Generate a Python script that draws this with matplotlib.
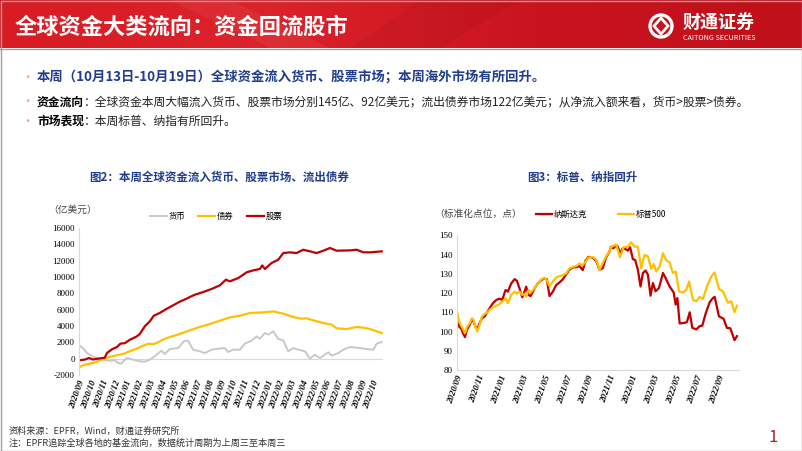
import matplotlib.pyplot as plt
import numpy as np
from matplotlib.patches import Rectangle, Circle, Polygon
from matplotlib.colors import LinearSegmentedColormap

plt.rcParams['font.family'] = ['Noto Sans CJK SC', 'DejaVu Sans']

# ---- data: fund flows (100m USD), x = months since 2020/09 ----
flow_ticks = ["2020/09", "2020/10", "2020/11", "2020/12", "2021/01", "2021/02", "2021/03",
              "2021/04", "2021/05", "2021/06", "2021/07", "2021/08", "2021/09", "2021/10",
              "2021/11", "2021/12", "2022/01", "2022/02", "2022/03", "2022/04", "2022/05",
              "2022/06", "2022/07", "2022/08", "2022/09", "2022/10"]

stock_x = [0, 0.48, 0.85, 1.19, 1.62, 2.19, 2.38, 2.84, 3.23, 3.52, 3.89, 4.31, 4.88, 5.16,
           5.59, 6.02, 6.36, 6.87, 7.43, 8.00, 8.57, 9.14, 9.42, 9.85, 10.56, 11.27, 11.98,
           12.49, 12.83, 13.54, 14.25, 14.81, 15.38, 15.58, 15.81, 16.37, 16.94, 17.37, 17.93,
           18.50, 19.07, 19.64, 20.20, 20.77, 21.34, 21.91, 23.04, 23.61, 24.18, 24.74, 25.74]
stock_y = [-200, -120, 80, -100, 0, 120, 700, 1180, 1430, 1840, 1900, 2300, 2700, 3000,
           3950, 4570, 5260, 5600, 6080, 6530, 6980, 7340, 7550, 7830, 8160, 8530, 8980,
           9670, 9470, 9870, 10570, 10810, 10980, 11420, 10980, 11710, 12120, 12930, 13020,
           12930, 13340, 13140, 12930, 13220, 13550, 13220, 13260, 13340, 13020, 13020, 13140]

bond_x = [0, 0.48, 1.19, 1.62, 2.04, 2.61, 3.18, 3.75, 4.31, 4.88, 5.45, 5.93, 6.30, 6.73,
          7.15, 7.72, 8.57, 9.42, 10.27, 11.12, 11.98, 12.83, 13.68, 14.53, 15.66, 16.52,
          17.37, 18.22, 18.93, 19.35, 19.92, 20.77, 21.48, 21.91, 22.76, 23.61, 24.18, 24.74,
          25.74]
bond_y = [-1060, -730, -530, -330, -40, 200, 410, 570, 900, 1220, 1590, 1840, 1750, 2000,
          2330, 2650, 3020, 3470, 3880, 4240, 4650, 5060, 5260, 5590, 5670, 5790, 5510, 5100,
          4900, 4940, 4690, 4370, 4160, 3710, 3630, 3880, 3790, 3630, 3140]

cash_x = [0, 0.34, 0.68, 1.05, 1.48, 1.90, 2.47, 3.04, 3.32, 3.60, 4.03, 4.60, 5.16, 5.59,
          6.02, 6.44, 7.01, 7.29, 7.72, 8.43, 8.91, 9.28, 9.70, 10.27, 10.70, 11.27, 11.83,
          12.40, 12.68, 13.11, 13.68, 14.10, 14.67, 15.10, 15.38, 15.81, 16.09, 16.52, 16.94,
          17.37, 17.79, 18.22, 18.64, 19.21, 19.64, 20.06, 20.49, 20.91, 21.20, 21.48, 22.05,
          22.47, 23.04, 23.89, 24.46, 25.03, 25.31, 25.74]
cash_y = [1630, 1300, 690, 370, 80, -40, -250, -200, -530, -610, 80, -120, -330, -370,
          -120, 290, 980, 570, 1180, 1300, 2120, 2200, 1100, 900, 690, 1100, 1220,
          1300, 820, 1100, 1100, 1840, 2200, 2730, 2450, 3140, 2940, 3350, 2410,
          2240, 900, 1300, 1100, 900, 0, 490, 80, 490, 780, 370, 690,
          1100, 1430, 1300, 1180, 1100, 1840, 2040]

# ---- data: normalised index levels ----
index_ticks = ["2020/09", "2020/11", "2021/01", "2021/03", "2021/05", "2021/07", "2021/09",
               "2021/11", "2022/01", "2022/03", "2022/05", "2022/07", "2022/09"]

nasdaq_x = [0, 0.18, 0.40, 0.55, 0.73, 0.91, 1.16, 1.37, 1.52, 1.68, 1.86, 2.07, 2.29, 2.53,
            2.74, 2.99, 3.29, 3.60, 3.90, 4.15, 4.45, 4.66, 4.97, 5.28, 5.49, 5.73, 5.98,
            6.19, 6.34, 6.56, 6.74, 7.11, 7.41, 7.72, 8.02, 8.23, 8.48, 8.78, 9.09, 9.39,
            9.70, 10.00, 10.31, 10.61, 10.92, 11.22, 11.53, 11.77, 12.04, 12.44, 12.75, 13.06,
            13.36, 13.67, 13.97, 14.12, 14.34, 14.59, 14.74, 14.95, 15.20, 15.44, 15.66, 15.87,
            16.12, 16.33, 16.58, 16.82, 17.04, 17.28, 17.50, 17.74, 17.96, 18.20, 18.51, 18.88,
            19.12, 19.49, 19.86, 20.04, 20.20, 20.41, 20.87, 21.08, 21.33, 21.57, 21.94, 22.24,
            22.49, 22.79, 23.16, 23.46, 23.62, 24.01, 24.44, 24.74, 25.05, 25.44, 25.66]
nasdaq_y = [109.5, 102.6, 101.4, 99.1, 97.1, 100.9, 103.4, 106.4, 105.2, 102.6, 101.2, 104.3,
            106.9, 107.8, 109.8, 112.1, 114.7, 116.4, 117.1, 116.4, 121.6, 120.7, 125.0, 127.2,
            126.4, 122.4, 117.8, 120.7, 123.3, 119.0, 118.4, 122.4, 125.0, 126.7, 127.6, 127.2,
            118.4, 120.7, 124.1, 125.5, 127.1, 129.7, 132.2, 133.3, 133.4, 134.0, 131.9, 136.7,
            138.8, 138.4, 136.7, 132.1, 132.9, 138.6, 141.5, 144.1, 143.3, 144.8, 144.1, 140.7,
            143.3, 142.9, 142.0, 143.8, 137.6, 137.2, 132.1, 123.4, 130.4, 131.7, 129.5, 118.6,
            125.2, 120.9, 122.6, 130.4, 127.8, 123.4, 120.3, 114.0, 117.4, 104.2, 104.5, 105.0,
            110.0, 101.9, 101.1, 102.8, 103.1, 109.3, 115.2, 117.4, 118.0, 107.9, 106.6, 101.9,
            101.7, 95.5, 97.6]

spx_x = [0, 0.18, 0.40, 0.55, 0.73, 0.91, 1.16, 1.37, 1.52, 1.68, 1.86, 2.07, 2.29, 2.53,
         2.74, 2.99, 3.29, 3.60, 3.90, 4.15, 4.45, 4.66, 4.97, 5.28, 5.49, 5.73, 5.98, 6.19,
         6.34, 6.56, 6.74, 7.11, 7.41, 7.72, 8.02, 8.23, 8.48, 8.78, 9.09, 9.39, 9.70, 10.00,
         10.31, 10.61, 10.92, 11.22, 11.53, 11.77, 12.04, 12.44, 12.75, 13.06, 13.67, 13.97,
         14.12, 14.59, 14.95, 15.26, 15.66, 15.96, 16.27, 16.58, 16.88, 17.19, 17.50, 17.80,
         18.02, 18.26, 18.57, 18.88, 19.18, 19.49, 19.79, 20.04, 20.35, 20.72, 21.02, 21.27,
         21.63, 21.94, 22.24, 22.55, 22.91, 23.31, 23.62, 24.01, 24.38, 24.84, 25.14, 25.44,
         25.66]
spx_y = [110.3, 105.2, 102.9, 101.2, 99.1, 102.2, 104.3, 106.9, 106.0, 102.6, 100.0, 103.4,
         107.8, 109.1, 109.8, 111.2, 112.6, 113.3, 114.3, 115.5, 117.2, 114.7, 119.0, 120.7,
         119.8, 120.7, 119.0, 119.5, 118.1, 121.6, 120.3, 122.4, 125.0, 127.1, 127.9, 126.7,
         123.6, 125.9, 128.1, 128.8, 129.3, 130.2, 132.8, 133.6, 134.0, 135.3, 134.5, 136.2,
         138.4, 138.8, 137.4, 132.1, 139.1, 141.5, 143.8, 145.3, 138.6, 143.8, 144.1, 146.4,
         144.1, 144.1, 132.9, 139.8, 139.1, 132.5, 135.1, 131.2, 133.7, 140.7, 136.9, 135.9,
         130.4, 131.2, 120.9, 120.3, 121.7, 126.0, 116.5, 115.7, 118.0, 116.9, 123.4, 128.6,
         130.7, 122.1, 120.9, 114.9, 115.7, 110.0, 113.4]

RED = '#C00000'
YELLOW = '#FFC000'
GRAY = '#C8C8C8'
NAVY = '#1F3D8C'
SERIF = 'Liberation Serif'

fig = plt.figure(figsize=(8.02, 4.51), dpi=100)

# slide background / decorations in pixel coords
bg = fig.add_axes([0, 0, 1, 1])
bg.set_xlim(0, 802)
bg.set_ylim(451, 0)
bg.axis('off')

grad = np.linspace(0, 1, 256).reshape(1, -1)
hdr_cmap = LinearSegmentedColormap.from_list('hdr', ['#D81C24', '#DC222B', '#CA141E', '#C0101A'])
bg.imshow(grad, cmap=hdr_cmap, extent=(0, 802, 48, 0), aspect='auto', zorder=0)
bg.add_patch(Polygon([(170, 0), (230, 0), (330, 48), (270, 48)], closed=True,
                     fc='white', alpha=0.05, ec='none', zorder=1))
bg.add_patch(Polygon([(420, 0), (520, 0), (440, 48), (350, 48)], closed=True,
                     fc='black', alpha=0.04, ec='none', zorder=1))
bg.plot([0, 802], [48.5, 48.5], color='#A0A0A0', lw=1, zorder=2)
bg.add_patch(Rectangle((0.5, 0.5), 801, 450, fill=False, ec='#A0A0A0', lw=1, zorder=2))

bg.text(15, 27, '全球资金大类流向：资金回流股市', color='white', fontsize=16,
        fontweight='bold', va='center', ha='left', zorder=3)

# logo
bg.add_patch(Circle((661, 26), 11, fc='none', ec='white', lw=2.4, zorder=3))
bg.add_patch(Polygon([(661, 18), (668, 26), (661, 34), (654, 26)], closed=True,
                     fc='none', ec='white', lw=2, zorder=3))
bg.text(683, 22, '财通证券', color='white', fontsize=13, fontweight='bold',
        va='center', ha='left', zorder=3)
bg.text(683, 38, 'CAITONG SECURITIES', color='white', fontsize=5.2,
        va='center', ha='left', zorder=3)

# bullet text
for yy in (77, 102, 121):
    bg.text(21, yy, '•', color='#F4A46A', fontsize=9, va='center', ha='left')
bg.text(37, 77, '本周（10月13日-10月19日）全球资金流入货币、股票市场；本周海外市场有所回升。',
        color=NAVY, fontsize=9.6, fontweight='bold', va='center', ha='left')
t1 = bg.text(37, 102, '资金流向', color='black', fontsize=8.5, fontweight='bold',
             va='center', ha='left')
bg.annotate('：全球资金本周大幅流入货币、股票市场分别145亿、92亿美元；流出债券市场122亿美元；从净流入额来看，货币>股票>债券。',
            xy=(1, 0.5), xycoords=t1, color='#222222', fontsize=8.5, va='center', ha='left')
t2 = bg.text(37, 121, '市场表现', color='black', fontsize=8.5, fontweight='bold',
             va='center', ha='left')
bg.annotate('：本周标普、纳指有所回升。', xy=(1, 0.5), xycoords=t2, color='#222222',
            fontsize=8.5, va='center', ha='left')

# chart titles
bg.text(219, 177, '图2：本周全球资金流入货币、股票市场、流出债券', color=NAVY, fontsize=8.3,
        fontweight='bold', va='center', ha='center')
bg.text(582, 177, '图3：标普、纳指回升', color=NAVY, fontsize=8.3,
        fontweight='bold', va='center', ha='center')
bg.text(48, 210, '（亿美元）', color='#444444', fontsize=7, va='center', ha='left')
bg.text(434, 214, '（标准化点位，点）', color='#444444', fontsize=7, va='center', ha='left')

# footer
bg.text(9, 431, '资料来源：EPFR，Wind，财通证券研究所', color='#333333', fontsize=6.6,
        va='center', ha='left')
bg.text(9, 443, '注：EPFR追踪全球各地的基金流向，数据统计周期为上周三至本周三', color='#333333',
        fontsize=6.6, va='center', ha='left')
bg.text(773, 437, '1', color='#B01E2F', fontsize=12, va='center', ha='center')

# ---- left chart: fund flows ----
ax1 = fig.add_axes([79 / 802, 1 - 375 / 451, 304 / 802, 147 / 451])
ax1.plot(cash_x, cash_y, color=GRAY, lw=1.4, label='货币')
ax1.plot(bond_x, bond_y, color=YELLOW, lw=1.6, label='债券')
ax1.plot(stock_x, stock_y, color=RED, lw=1.6, label='股票')
ax1.axhline(0, color='#D9D9D9', lw=0.8, zorder=0)
ax1.set_xlim(0, 25.85)
ax1.set_ylim(-2000, 16000)
ax1.set_yticks(np.arange(-2000, 16001, 2000))
ax1.set_yticklabels([str(v) for v in range(-2000, 16001, 2000)], fontfamily=SERIF, fontsize=6.5)
ax1.set_xticks(range(len(flow_ticks)))
ax1.set_xticklabels(flow_ticks, rotation=70, ha='right', va='top', rotation_mode='anchor',
                    fontfamily=SERIF, fontsize=6.4, fontweight='bold', fontstyle='italic')
ax1.tick_params(length=0, pad=3)
for s in ('top', 'right', 'bottom'):
    ax1.spines[s].set_visible(False)
ax1.spines['left'].set_color('#D9D9D9')
ax1.patch.set_alpha(0)
ax1.legend(loc='center', bbox_to_anchor=(216 / 802, 1 - 216 / 451),
           bbox_transform=fig.transFigure, ncol=3, frameon=False,
           fontsize=6, handlelength=2.0, columnspacing=1.6, handletextpad=0.2)

# ---- right chart: indices ----
ax2 = fig.add_axes([457 / 802, 1 - 370 / 451, 282 / 802, 134.7 / 451])
ax2.plot(nasdaq_x, nasdaq_y, color=RED, lw=1.6, label='纳斯达克')
ax2.plot(spx_x, spx_y, color=YELLOW, lw=1.6, label='标普500')
ax2.set_xlim(0, 25.85)
ax2.set_ylim(80, 150)
ax2.set_yticks(range(80, 151, 10))
ax2.set_yticklabels([str(v) for v in range(80, 151, 10)], fontfamily=SERIF, fontsize=6.5)
ax2.set_xticks(range(0, 26, 2))
ax2.set_xticklabels(index_ticks, rotation=70, ha='right', va='top', rotation_mode='anchor',
                    fontfamily=SERIF, fontsize=6.4, fontweight='bold', fontstyle='italic')
ax2.tick_params(length=0, pad=3)
for s in ('top', 'right'):
    ax2.spines[s].set_visible(False)
ax2.spines['left'].set_color('#D9D9D9')
ax2.spines['bottom'].set_color('#D9D9D9')
ax2.patch.set_alpha(0)
ax2.legend(loc='center', bbox_to_anchor=(601 / 802, 1 - 214 / 451),
           bbox_transform=fig.transFigure, ncol=2, frameon=False,
           fontsize=6, handlelength=2.0, columnspacing=3.6, handletextpad=0.2)

fig.savefig('out.png', dpi=100)
plt.close()
